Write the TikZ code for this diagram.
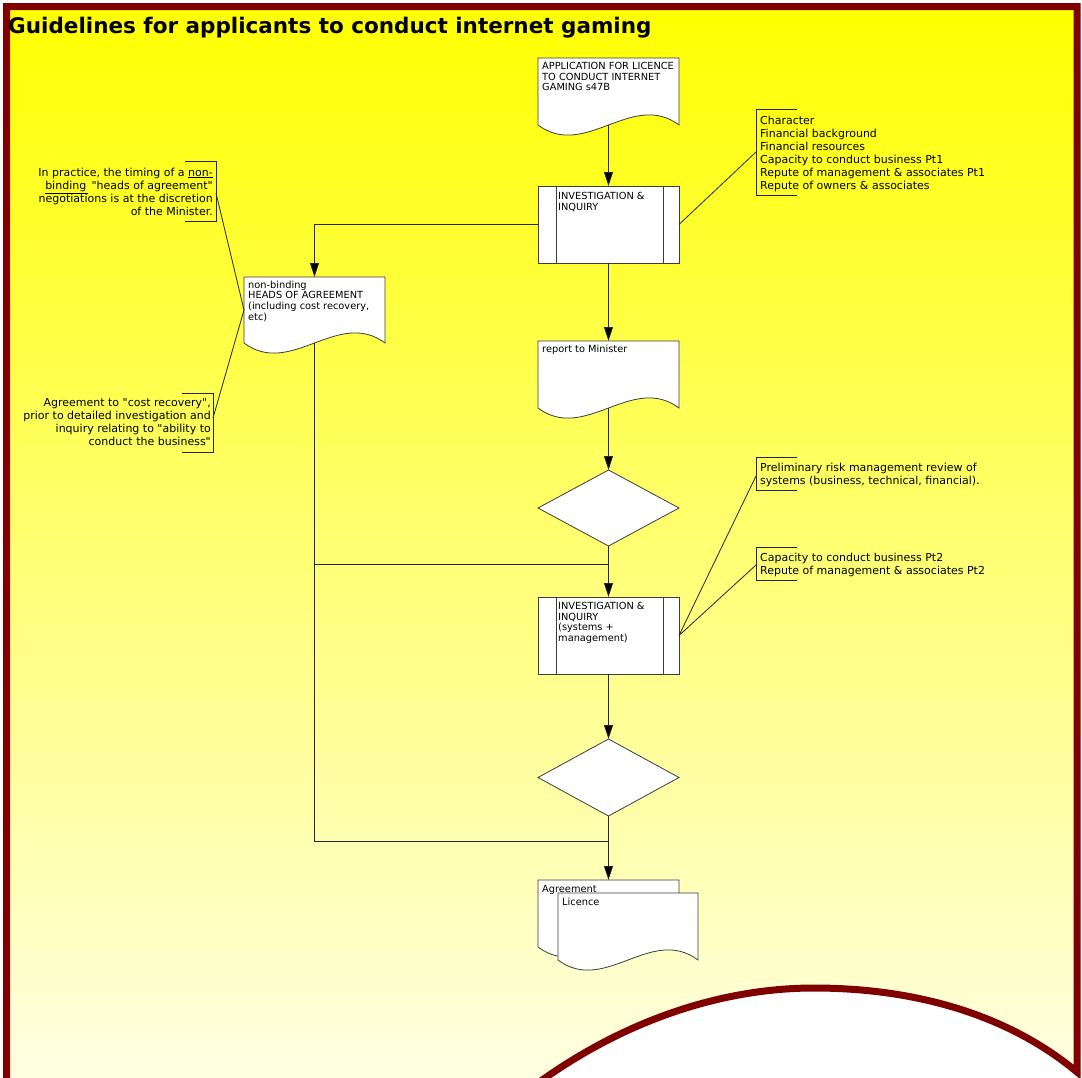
\documentclass[tikz,border=0pt]{standalone}
\usepackage{fontspec}
\setmainfont{DejaVu Sans}[Ligatures=TeXOff]
\usetikzlibrary{arrows.meta,shapes.geometric,calc}

\definecolor{framered}{RGB}{128,0,0}
\definecolor{pagetop}{RGB}{255,255,0}
\definecolor{pagebottom}{RGB}{255,255,235}
\definecolor{edge}{RGB}{60,60,60}

% document symbol: straight top and sides, wavy bottom edge
\newcommand\docshape[1]{%
  \path[shapeline] (#1.south west) -- (#1.north west) -- (#1.north east) -- (#1.south east)
    .. controls +(-47,-35) and +(47,35) .. (#1.south west) -- cycle;}
% predefined-process symbol: inner vertical bars
\newcommand\procbars[1]{%
  \draw[edge, line width=0.8pt] ([xshift=18pt]#1.north west) -- ([xshift=18pt]#1.south west);
  \draw[edge, line width=0.8pt] ([xshift=-16pt]#1.north east) -- ([xshift=-16pt]#1.south east);}

\begin{document}
\begin{tikzpicture}[x=1pt,y=-1pt,
  shapeline/.style={draw=edge, line width=0.8pt, fill=white},
  geom/.style={inner sep=0pt, outer sep=0pt, minimum width=141pt},
  flow/.style={draw=black!85, line width=0.8pt},
  arrow/.style={flow, -{Triangle[length=14pt,width=9pt,fill=black]}},
  note/.style={draw=black!85, line width=0.8pt},
  boxtext/.style={inner sep=0pt, anchor=north west, align=left, font=\fontsize{9.8}{10.7}\selectfont},
  notetext/.style={inner sep=0pt, font=\fontsize{11}{13}\selectfont},
]
\useasboundingbox (0,0) rectangle (1082,1077);

% page frame with wavy lower edge
\begin{scope}
  \clip (0,0) rectangle (1082,1077);
  \path[draw=framered, line width=7pt, top color=pagetop, bottom color=pagebottom]
    (6.5,1120) -- (6.5,6.5) -- (1077,6.5) -- (1077,1072)
    .. controls (1005,1012) and (910,988) .. (814,988)
    .. controls (715,988) and (612,1025) .. (522,1095) -- cycle;
\end{scope}

% title
\node[anchor=west, inner sep=0pt, font=\bfseries\fontsize{21.5}{22}\selectfont] (title) at (8,28)
  {Guidelines for applicants to conduct internet gaming};

% flowchart symbols
\node[geom, minimum height=67pt, anchor=north west] (app) at (538,58) {};
\docshape{app}
\node[boxtext] (apptext) at (542,62) {APPLICATION FOR LICENCE\\TO CONDUCT INTERNET\\GAMING s47B};

\node[geom, shapeline, minimum height=77pt, anchor=north west] (inv1) at (538,186) {};
\procbars{inv1}
\node[boxtext] (inv1text) at (558,192) {INVESTIGATION \&\\INQUIRY};

\node[geom, minimum height=66pt, anchor=north west] (heads) at (244,277) {};
\docshape{heads}
\node[boxtext] (headstext) at (248,280.5) {non-binding\\HEADS OF AGREEMENT\\(including cost recovery,\\etc)};

\node[geom, minimum height=67pt, anchor=north west] (rep) at (538,341) {};
\docshape{rep}
\node[boxtext] (reptext) at (542,344.5) {report to Minister};

\node[geom, shapeline, diamond, minimum height=76pt, anchor=north] (d1) at (608.5,470) {};

\node[geom, shapeline, minimum height=77pt, anchor=north west] (inv2) at (538,597) {};
\procbars{inv2}
\node[boxtext] (inv2text) at (558,602) {INVESTIGATION \&\\INQUIRY\\(systems +\\management)};

\node[geom, shapeline, diamond, minimum height=77pt, anchor=north] (d2) at (608.5,739) {};

\node[geom, minimum height=67pt, anchor=north west] (agr) at (538,880) {};
\docshape{agr}
\node[boxtext] (agrtext) at (542,885) {Agreement};
\node[geom, minimum width=140pt, minimum height=67pt, anchor=north west] (lic) at (558,893) {};
\docshape{lic}
\node[boxtext] (lictext) at (562,898) {Licence};

% flow connectors
\coordinate (j1) at (314.5,564);
\coordinate (j2) at (314.5,841);
\coordinate (k1) at (608.5,564);
\coordinate (k2) at (608.5,841);
\coordinate (split) at (314.5,224.5);

\draw[arrow] (app.south) -- (inv1.north);
\draw[arrow] (inv1.west) -- (split) -- (heads.north);
\draw[arrow] (inv1.south) -- (rep.north);
\draw[arrow] (rep.south) -- (d1.north);
\draw[arrow] (d1.south) -- (inv2.north);
\draw[arrow] (inv2.south) -- (d2.north);
\draw[arrow] (d2.south) -- (agr.north);
\draw[flow] (heads.south) -- (j1) -- (k1);
\draw[flow] (j1) -- (j2) -- (k2);

% annotations on the right
\node[notetext, anchor=north west, align=left] (n1) at (760,115.5)
  {Character\\Financial background\\Financial resources\\Capacity to conduct business Pt1\\Repute of management \& associates Pt1\\Repute of owners \& associates};
\draw[note] (797,109) -- (756,109) -- (756,195) -- (797,195);
\coordinate (n1b) at (756,152);
\draw[note] (inv1.east) -- (n1b);

\node[notetext, anchor=north west, align=left] (n2) at (760,462.5)
  {Preliminary risk management review of\\systems (business, technical, financial).};
\draw[note] (797,457) -- (756,457) -- (756,490) -- (797,490);
\coordinate (n2b) at (756,476);
\draw[note] (inv2.east) -- (n2b);

\node[notetext, anchor=north west, align=left] (n3) at (760,552.5)
  {Capacity to conduct business Pt2\\Repute of management \& associates Pt2};
\draw[note] (797,547) -- (756,547) -- (756,580) -- (797,580);
\coordinate (n3b) at (756,565);
\draw[note] (inv2.east) -- (n3b);

% annotations on the left
\node[notetext, anchor=north east, align=right] (l1) at (213,167.5)
  {In practice, the timing of a \underline{non-}\\\underline{binding\,} "heads of agreement"\\negotiations is at the discretion\\of the Minister.};
\draw[note] (185,161) -- (216,161) -- (216,221) -- (185,221);
\coordinate (l1b) at (216,193);
\draw[note] (l1b) -- (heads.west);

\node[notetext, anchor=north east, align=right] (l2) at (211,398.5)
  {Agreement to "cost recovery",\\prior to detailed investigation and\\inquiry relating to "ability to\\conduct the business"};
\draw[note] (182,393) -- (213,393) -- (213,452) -- (182,452);
\coordinate (l2b) at (213,418);
\draw[note] (l2b) -- (heads.west);
\end{tikzpicture}
\end{document}
